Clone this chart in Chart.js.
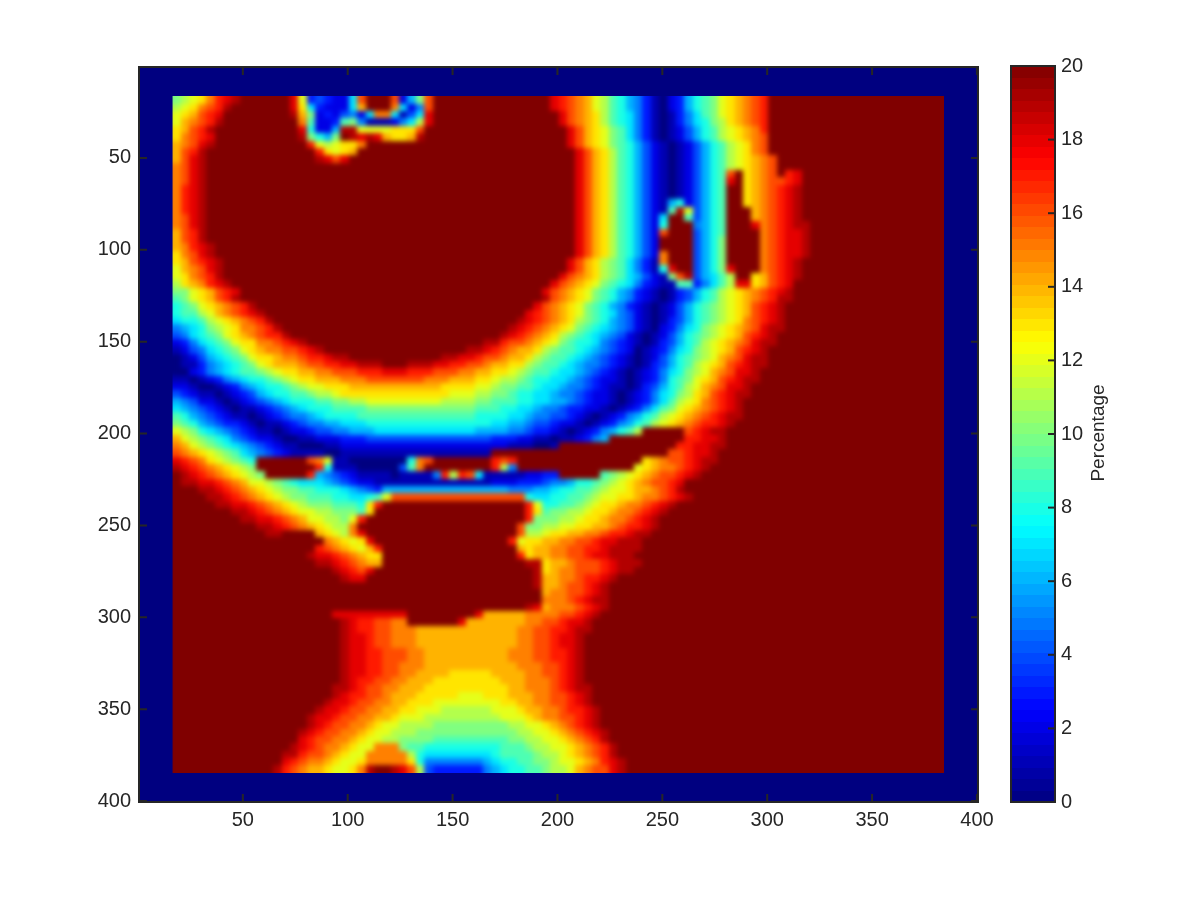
<!DOCTYPE html>
<html>
<head>
<meta charset="utf-8">
<title>Percentage map</title>
<script src="https://cdn.jsdelivr.net/npm/chart.js@4/dist/chart.umd.js"></script>
<style>
  html, body { margin: 0; padding: 0; background: #fff; }
  #conteneur { position: relative; width: 1200px; height: 900px; }
  canvas { position: absolute; left: 0; top: 0; }
</style>
</head>
<body>
<div id="conteneur">
  <canvas id="mapChart" width="1200" height="900"></canvas>
  <canvas id="barChart" width="1200" height="900"></canvas>
</div>
<script>
var xTicks = [50, 100, 150, 200, 250, 300, 350, 400];
var yTicks = [50, 100, 150, 200, 250, 300, 350, 400];
var barTicks = [0, 2, 4, 6, 8, 10, 12, 14, 16, 18, 20];
var barTitle = "Percentage";

// percentage, 92 rows of 92 cells, one cell is 4 units wide
// 0-9 then a=10 ... k=20, "k*6;" means six k, a short row goes on with k
var mapRows = [
"abcdfhijk*6;ic343227gk*3;g26agk*14;ihgfecb986531023689acdefgh",
"bcdfghjk*7;id732227ek*3;f725gk*14;ihgfecb986531023689acdefgh",
"cdeghik*8;jea2324527ff7147ik*15;igfedb987531013579acdefgh",
"cefghjk*9;f92239a51112 57bik*15;igfedb987531013578abdefgh",
"deghjk*10;i8226jjccccdddgk*17;igedca975310124689bcdefh",
"dfghik*10;ja86akjijieddejk*17;igedca975310124689bcdefg",
"efgijk*11;hcbcddfk*24;igedca9864210124689bcdfg",
"eghjk*13;hdcdek*26;igedb9864210124689bcdfg",
"egijk*13;jigik*27;igedb9864210124689bcdefg",
"fgijk*44;igedb9864210124689bcdefg",
"fgijk*44;igedb9864210124689gkdefgkhi",
"fgijk*44;igedb9864210124689ikdefgghi",
"fhijk*44;igedb9864210124689kkdefghij",
"fhijk*44;igedb9864210124689kkdefghij",
"fhijk*44;igedb98642168246 89kkdefghij",
"fhijk*44;igedb9864219jc4689kkkefghij",
"fgijk*44;igedb986427kk94689kkkefghij",
"fgijk*44;igedb986428kkk5689kkkifghijj",
"eghjk*44;igedb98642gkkk4689kkkkfghiij",
"eghjk*44;igedb98642kkkk468akkkkfghiij",
"efhijk*43;igedb98642kkkk468akkkkfghiij",
"dfgijk*43;igedb98642fkkk468akkkkfghiij",
"deghijk*41;igedba97531fkkk468akkkkfghij",
"cefgijk*41;igedba975318ikk468aikkkfghij",
"cdfghjk*40;igfedba976421agj4679bkkdeghij",
"bdefhijk*38;igfedca9875321199357 9biideghi",
"aacdeghik*36;igfedca98653210134689bcdefghij",
"9acdeghjk*36;jgfedca98653210134689bcdefghjj",
"89acdefghjk*33;igfedca98653210124689abcdeghij",
"899bcefghijk*31;ihgfedca98754210124689abcdeghij",
"7889bcdefghjk*29;jihgfedba9865421013468 9abcdfghij",
"5678abcdffghjk*27;jihgfedca98765421 0235 78abcdefgijj",
"45789acdefghhjk*25;jihgfedba98765421 0124689abcdeghij",
"235789acddffghijk*21;jjhggfedca98875432 10134689bcdefgijj",
"1245789acdeffgghijk*17;jjihgfeedba99876 54320123578abcdeghij",
"01246789acddeffghhijjk*11;jjiihggfeedba998765 43210124689abcefgijj",
"01135678 9acdeeefgghhiijjjkkkjjjiihhggfeeddba9987 65543210134689bcdeghijj",
"0023567899abcddeeffggghhhiiihhhgggffeeddcba998776543210123578abcefgiij",
"110123567889abcddeeefffggggggg fffeeeddcbba988776 54322 10123589acdeghijj",
"22100123567889abccddde*11;ddddccbaa9987765 5432110134689bcefgiij",
"43211012346788 99abbcd*13;cccbbaa988776554 32210123578abdeghijj",
"65422101234567888 99aabbc*9;bbbbaa9998877665 4322 10123579bcdfghij",
"7654321011234567888 9999a*13;99988776554332210123579acdefghij",
"9865432110123455 678888 9*14;8*4;7765544 32101235689bcdefghijj",
"a9865433210112345566 777 8*15;77665 443221 012356 89bcdefghhij",
"cba87654321101223445 566 6 7*12;6*4;5543 3210 1235689bk*5;ghijj",
"ecba987543221001122233 34*15;333 221 10 112356k*9;hhiij",
"fecba987654 321100 0112*20;111 00 1k*14;hhiijj",
"gfedcba976543 2 1111 00 1*18;k*21;gghiij",
"ihgfdcba98k*6;gfc11 0*7;8fgk*7;hghk*15;defgghijj",
"jihgfedcbak*7;h8111 0*5;49fk*8;hb5k*14;cdeffghij",
"k*1;jihgfedcbak*5;h6543211 11 0 1111 5hbhg7 1*5;2233k*5;9abcdefgghij",
"kjjiihgfeccba98777 65432 2 1*14;222 333 4 55 6 88 9abcdefgghi",
"k*3;jjihgfedcbaa99888 76543 6*15;55 5667889 9abccdeefghj",
"k*4;jjihgfedcbaa99988 77 89c g*16;8778899 abccddeffghij",
"k*5;jjiihgfedcbaaa9998dhk*17;hc8899abcddeffghij",
"k*7;jjihgfedccbbaaa9dk*18;hd9aabbcddeffghij",
"k*8;jjiihgfeccbbachk*19;haaabbcddeffghij",
"k*10;jjihgfedcbbfk*19;gaabbccddeefghhij",
"k*11;jjk*4;edcbfik*18;gbbcddeeffghhijj",
"k*18;fedcdik*16;hcddeeffgghiijjj",
"k*17;hgfedcehk*16;edeeffgghhijjjj",
"k*16;jiihgfeddk*16;hdeeffgghiijjj",
"k*17;jjihgfeek*17;jjdeefggghijjj",
"k*19;jihgik*19;jdeffggghijj",
"k*20;jiik*20;jeeffghhij",
"k*43;jeefgghij",
"k*44;effgghij",
"k*44;fffghijj",
"k*42;jiefffghij",
"k*19;i*9;k*8;ie*5;f*4;gghij",
"k*20;jihhggffk*6;ie*7;ffgghiij",
"k*20;jihhggfffe*12;ffgghhijj",
"k*20;jiihggfffe*12;ffgghiij",
"k*20;jiihggfffe*12;ffgghiij",
"k*20;jiihhgggffe*10;fffgghhij",
"k*20;jiihhgggffe*10;fffgghhij",
"k*20;jiihhggfffe*11;fffgghij",
"k*20;jiihhggffeeeed*5;e*4;ffgghij",
"k*20;jihhggffeeed*8;eeefffghij",
"k*19;jjihggffeeed*10;eefffghijj",
"k*19;jihhggfeeed*5;cccdddeeeffgghij",
"k*18;jiihggffeeddd c*8;ddeeffgghij",
"k*17;jiihggffeedd ccc b*6;cccdeeffghhij",
"k*16;jiihggffeed ccc b*9;cccdeffgghij",
"k*16;jihggffedcc bbbb a*9;bbccdefghij",
"k*15;jihggffedcc bbb a*12;bbccdefghij",
"k*15;ihggffedcc bb aaaa 9*9;aabbccdefghj",
"k*14;jihgffedcc fff a99 8*9;999abbccdefghj",
"k*13;jjhggfedcc f*5;b8 7*8;89999abbcdefghj",
"k*13;ihgffedccd f*5;d8 5*7;6788 99aabccdefhij",
"k*12;jhgfeedccdfjkkjigb4 3*6;5678899abbcefggij"
];
mapRows = mapRows.map(function (row) {
    row = row.replace(/ /g, "").replace(/(.)\*(\d+);/g, function (m, ch, n) {
        return ch.repeat(parseInt(n));
    });
    return row.padEnd(92, "k").slice(0, 92);
});

function jet(v) {
    var t = Math.max(0, Math.min(1, v / 20));
    var r = Math.min(4 * t - 1.5, -4 * t + 4.5);
    var g = Math.min(4 * t - 0.5, -4 * t + 3.5);
    var b = Math.min(4 * t + 0.5, -4 * t + 2.5);
    function c(x) { return Math.round(255 * Math.max(0, Math.min(1, x))); }
    return "rgb(" + c(r) + "," + c(g) + "," + c(b) + ")";
}

var cells = [];
mapRows.forEach(function (row, r) {
    for (var c = 0; c < row.length; c++) {
        cells.push({ x: 18.5 + 4 * c, y: 18.5 + 4 * r, v: parseInt(row[c], 36) });
    }
});

var barCells = [];
for (var i = 0; i < 64; i++) {
    barCells.push({ x: 0.5, y: (i + 0.5) * 20 / 64, v: (i + 0.5) * 20 / 64 });
}

var inkColor = "#262626";

// cells are filled through the scales, the scatter points stay invisible
var cellsPlugin = {
    id: "cellsPlugin",
    beforeDatasetsDraw: function (chart, args, opts) {
        var ctx = chart.ctx, xs = chart.scales.x, ys = chart.scales.y, a = chart.chartArea;
        ctx.save();
        ctx.fillStyle = jet(0);
        ctx.fillRect(a.left, a.top, a.right - a.left, a.bottom - a.top);
        var data = chart.data.datasets[0].data;
        var target = ctx, layer = null;
        if (opts.soft) {
            // the cells go on a layer first so the steps between them can be softened
            layer = document.createElement("canvas");
            layer.width = chart.width;
            layer.height = chart.height;
            target = layer.getContext("2d");
        }
        var minX = xs.getPixelForValue(data[0].x - opts.w / 2), maxX = minX;
        var minY = ys.getPixelForValue(data[0].y - opts.h / 2), maxY = minY;
        data.forEach(function (d) {
            var x0 = Math.round(xs.getPixelForValue(d.x - opts.w / 2));
            var x1 = Math.round(xs.getPixelForValue(d.x + opts.w / 2));
            var y0 = Math.round(ys.getPixelForValue(d.y - opts.h / 2));
            var y1 = Math.round(ys.getPixelForValue(d.y + opts.h / 2));
            minX = Math.min(minX, x0); maxX = Math.max(maxX, x1);
            minY = Math.min(minY, y0); maxY = Math.max(maxY, y1);
            target.fillStyle = jet(d.v);
            target.fillRect(Math.min(x0, x1), Math.min(y0, y1), Math.abs(x1 - x0), Math.abs(y1 - y0));
        });
        if (layer) {
            // repeat the outer cells past the edge so the blur keeps a clean border
            target.drawImage(layer, minX, minY, 1, maxY - minY, minX - 12, minY, 12, maxY - minY);
            target.drawImage(layer, maxX - 1, minY, 1, maxY - minY, maxX, minY, 12, maxY - minY);
            target.drawImage(layer, minX - 12, minY, maxX - minX + 24, 1, minX - 12, minY - 12, maxX - minX + 24, 12);
            target.drawImage(layer, minX - 12, maxY - 1, maxX - minX + 24, 1, minX - 12, maxY, maxX - minX + 24, 12);
            ctx.beginPath();
            ctx.rect(minX, minY, maxX - minX, maxY - minY);
            ctx.clip();
            ctx.filter = "blur(" + opts.soft + "px)";
            ctx.drawImage(layer, 0, 0);
            ctx.filter = "none";
        }
        ctx.restore();
    }
};

// box and inward ticks, as matlab draws them
var boxPlugin = {
    id: "boxPlugin",
    afterDraw: function (chart, args, opts) {
        var ctx = chart.ctx, a = chart.chartArea;
        ctx.save();
        ctx.strokeStyle = inkColor;
        ctx.lineWidth = 2;
        ctx.strokeRect(a.left, a.top, a.right - a.left, a.bottom - a.top);
        if (opts.bothSides) {
            chart.scales.x.ticks.forEach(function (t) {
                var px = chart.scales.x.getPixelForValue(t.value);
                ctx.beginPath();
                ctx.moveTo(px, a.bottom); ctx.lineTo(px, a.bottom - 8);
                ctx.moveTo(px, a.top); ctx.lineTo(px, a.top + 8);
                ctx.stroke();
            });
        }
        chart.scales.y.ticks.forEach(function (t) {
            var py = chart.scales.y.getPixelForValue(t.value);
            if (t.value == 0 || t.value == 20) return;
            ctx.beginPath();
            if (opts.bothSides) {
                ctx.moveTo(a.left, py); ctx.lineTo(a.left + 8, py);
            }
            ctx.moveTo(a.right, py); ctx.lineTo(a.right - 7, py);
            ctx.stroke();
        });
        if (opts.title) {
            ctx.translate(1099, 433);
            ctx.rotate(-Math.PI / 2);
            ctx.fillStyle = inkColor;
            ctx.font = '19px "Liberation Sans"';
            ctx.textAlign = "center";
            ctx.textBaseline = "middle";
            ctx.fillText(opts.title, 0, 0);
        }
        ctx.restore();
    }
};

var tickFont = { family: '"Liberation Sans"', size: 20 };

new Chart(document.getElementById("mapChart"), {
    type: "scatter",
    data: { datasets: [{ label: "Percentage", data: cells, pointRadius: 0, pointHoverRadius: 0 }] },
    plugins: [cellsPlugin, boxPlugin],
    options: {
        responsive: false,
        animation: false,
        layout: { padding: { left: 0, top: 67, right: 222, bottom: 0 } },
        plugins: {
            legend: { display: false },
            tooltip: { enabled: false },
            cellsPlugin: { w: 4, h: 4, soft: 2.5 },
            boxPlugin: { bothSides: true }
        },
        scales: {
            x: {
                type: "linear", min: 0.5, max: 400.5,
                grid: { display: false, drawTicks: false }, border: { display: false },
                afterBuildTicks: function (axis) { axis.ticks = xTicks.map(function (v) { return { value: v }; }); },
                afterFit: function (axis) { axis.height = 98; },
                ticks: { color: inkColor, font: tickFont, padding: 6, maxRotation: 0, autoSkip: false }
            },
            y: {
                type: "linear", min: 0.5, max: 400.5, reverse: true,
                grid: { display: false, drawTicks: false }, border: { display: false },
                afterBuildTicks: function (axis) { axis.ticks = yTicks.map(function (v) { return { value: v }; }); },
                afterFit: function (axis) { axis.width = 139; },
                ticks: { color: inkColor, font: tickFont, padding: 8, autoSkip: false }
            }
        }
    }
});

new Chart(document.getElementById("barChart"), {
    type: "scatter",
    data: { datasets: [{ label: barTitle, data: barCells, pointRadius: 0, pointHoverRadius: 0 }] },
    plugins: [cellsPlugin, boxPlugin],
    options: {
        responsive: false,
        animation: false,
        layout: { padding: { left: 1011, top: 66, right: 0, bottom: 98 } },
        plugins: {
            legend: { display: false },
            tooltip: { enabled: false },
            cellsPlugin: { w: 1, h: 20 / 64 },
            boxPlugin: { title: barTitle }
        },
        scales: {
            x: { type: "linear", min: 0, max: 1, display: false },
            y: {
                type: "linear", position: "right", min: 0, max: 20,
                grid: { display: false, drawTicks: false }, border: { display: false },
                afterBuildTicks: function (axis) { axis.ticks = barTicks.map(function (v) { return { value: v }; }); },
                afterFit: function (axis) { axis.width = 145; },
                ticks: { color: inkColor, font: tickFont, padding: 6, autoSkip: false }
            }
        }
    }
});
</script>
</body>
</html>
